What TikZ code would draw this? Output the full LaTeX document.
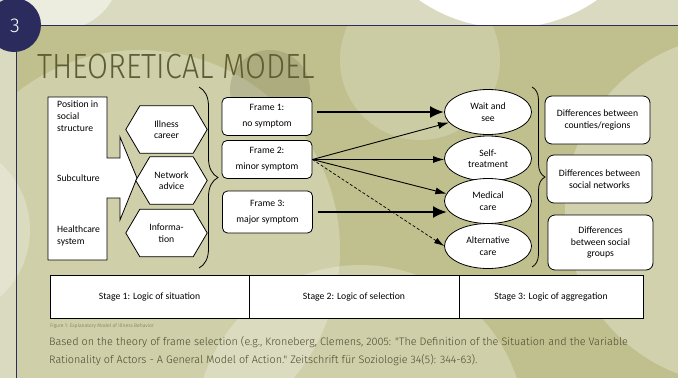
\documentclass[tikz,border=0pt]{standalone}
\usepackage{fontspec}
\setmainfont{Carlito}
\newfontfamily\lightfont{Fira Sans Light}
\usetikzlibrary{arrows.meta,shapes.geometric,decorations.pathreplacing}
\definecolor{navy}{HTML}{2B2B5E}
\definecolor{olivebase}{HTML}{C0C08E}
\definecolor{pagebg}{HTML}{DADAC0}
\definecolor{titlecol}{HTML}{5E5E34}
\definecolor{citecol}{HTML}{4A4A30}
\tikzset{
  every node/.style={font=\fontsize{9.7}{11.5}\selectfont},
  boxw/.style={draw=black, fill=white, line width=0.8pt, rounded corners=5pt, inner sep=0pt},
  framebox/.style={boxw, minimum width=90pt, minimum height=38pt, align=center, font=\fontsize{9.7}{16}\selectfont},
  diffbox/.style={boxw, rounded corners=7pt, minimum width=105pt, align=center},
  ell/.style={ellipse, draw=black, fill=white, line width=0.8pt, minimum width=87pt, minimum height=45pt, inner sep=0pt, align=center},
  hexa/.style={inner sep=0pt, minimum height=47pt, align=center},
  stagebox/.style={draw=black, fill=white, line width=0.8pt, minimum height=43pt, inner sep=0pt},
  thickarr/.style={line width=2.6pt, -{Latex[length=14pt,width=12pt]}},
  thinarr/.style={line width=0.9pt, -{Latex[length=11pt,width=7pt]}},
  dasharr/.style={line width=0.7pt, dashed, dash pattern=on 3pt off 2pt, -{Latex[length=10pt,width=6pt]}},
  bracedec/.style={decorate, line width=0.8pt},
}
\begin{document}
\begin{tikzpicture}[x=1pt,y=-1pt]
\useasboundingbox (0,0) rectangle (678,378);
% ---------- background ----------
\fill[pagebg] (0,0) rectangle (678,378);
\begin{scope}
  \clip (0,0) rectangle (678,25);
  \fill[white] (508,-127) circle (155);
  \fill[white, opacity=0.5] (60,-30) circle (60);
\end{scope}
\begin{scope}
  \clip (16,25) rectangle (678,378);
  \fill[olivebase] (16,25) rectangle (678,378);
  \fill[white, opacity=0.25] (140,250) circle (200);
  \fill[white, opacity=0.28] (740,210) circle (175);
  \fill[white, opacity=0.25] (360,430) circle (165);
  \fill[white, opacity=0.2] (420,60) circle (80);
  \fill[black!40!olivebase, opacity=0.25] (270,90) circle (40);
\end{scope}
\fill[white, opacity=0.25] (-60,230) circle (90);
% ---------- frame lines and number ----------
\draw[navy, line width=0.9pt] (16,40) -- (16,378);
\draw[navy, line width=0.9pt] (30,25) -- (678,25);
\fill[navy] (14,25) circle (27);
\node[text=white, font=\fontsize{20}{20}\selectfont\lightfont] (num) at (15,26) {3};
% ---------- title ----------
\node[anchor=base west, text=titlecol, inner sep=0pt, font=\fontsize{35}{35}\selectfont\lightfont] (title) at (37,78) {\scalebox{0.865}[1]{THEORETICAL MODEL}};
% ---------- left arrow box ----------
\draw[fill=white, line width=0.8pt] (48,97) -- (107,97) -- (107,158) -- (120,158) -- (120,137) -- (137,178) -- (120,220) -- (120,198) -- (107,198) -- (107,260) -- (48,260) -- cycle;
\node[anchor=north west, align=left, inner sep=0pt, font=\fontsize{9.7}{12}\selectfont] (pos) at (57,101) {Position in\\social\\structure};
\node[anchor=west, inner sep=0pt] (sub) at (57,178) {Subculture};
\node[anchor=north west, align=left, inner sep=0pt, font=\fontsize{9.7}{12}\selectfont] (hc) at (57,226) {Healthcare\\system};
% ---------- hexagons ----------
\node[hexa, minimum width=81pt] (ill) at (166.5,129.5) {Illness\\career};
\node[hexa, minimum width=71pt] (net) at (171.5,180.5) {Network\\advice};
\node[hexa, minimum width=81pt] (inf) at (166.5,233) {Informa-\\tion};
\foreach \h in {ill,net,inf}{
  \draw[fill=white, line width=0.8pt] (\h.west) -- ([xshift=14pt]\h.north west) -- ([xshift=-14pt]\h.north east) -- (\h.east) -- ([xshift=-14pt]\h.south east) -- ([xshift=14pt]\h.south west) -- cycle;
}
\node[hexa, minimum width=81pt] at (ill) {Illness\\career};
\node[hexa, minimum width=71pt] at (net) {Network\\advice};
\node[hexa, minimum width=81pt] at (inf) {Informa-\\tion};
% ---------- brace 1 ----------
\coordinate (b1a) at (199,87);
\coordinate (b1b) at (199,268);
\draw[bracedec, decoration={brace, amplitude=19pt}] (b1a) -- (b1b);
% ---------- frames ----------
\node[framebox] (f1) at (267,116.5) {Frame 1:\\no symptom};
\node[framebox] (f2) at (267,159.5) {Frame 2:\\minor symptom};
\node[framebox, minimum height=42pt] (f3) at (267.5,212) {Frame 3:\\major symptom};
% ---------- ellipses ----------
\node[ell] (wait) at (488,112) {Wait and\\see};
\node[ell] (self) at (488,158.5) {Self-\\treatment};
\node[ell] (med) at (488,201) {Medical\\care};
\node[ell] (alt) at (488,246) {Alternative\\care};
% ---------- arrows ----------
\draw[thickarr] ([xshift=5pt]f1.east |- wait.west) -- (wait.west);
\draw[thinarr] (f2.east) -- (wait);
\draw[thinarr] (f2.east) -- (f2.east -| self.west);
\draw[thinarr] (f2.east) -- (med.170);
\draw[dasharr] (f2.east) -- (alt.west);
\draw[thickarr] ([xshift=5pt]f3.east) -- ([xshift=3pt]f3.east -| med.west);
% ---------- brace 2 ----------
\coordinate (b2a) at (532,87);
\coordinate (b2b) at (532,267);
\draw[bracedec, decoration={brace, amplitude=13pt}] (b2a) -- (b2b);
% ---------- right boxes ----------
\node[diffbox, minimum height=48pt] (d1) at (597.5,120) {Differences between\\counties/regions};
\node[diffbox, minimum height=48pt] (d2) at (599.5,179) {Differences between\\social networks};
\node[diffbox, minimum height=55pt] (d3) at (600.5,242.5) {Differences\\between social\\groups};
% ---------- stage bar ----------
\node[stagebox, minimum width=199pt] (s1) at (149.5,296.5) {Stage 1: Logic of situation};
\node[stagebox, minimum width=210pt] (s2) at (354,296.5) {Stage 2: Logic of selection};
\node[stagebox, minimum width=184pt] (s3) at (551,296.5) {Stage 3: Logic of aggregation};
% ---------- captions ----------
\node[anchor=west, inner sep=0pt, text=citecol!80, font=\fontsize{5}{5}\selectfont\lightfont] (fig) at (50,326) {Figure 1: Explanatory Model of Illness Behavior};
\node[anchor=north west, align=left, inner sep=0pt, text=citecol, font=\fontsize{10.85}{18}\selectfont\lightfont] (cite) at (49,336) {Based on the theory of frame selection (e.g., Kroneberg, Clemens, 2005: "The Definition of the Situation and the Variable\\Rationality of Actors - A General Model of Action." Zeitschrift für Soziologie 34(5): 344-63).};
\end{tikzpicture}
\end{document}
